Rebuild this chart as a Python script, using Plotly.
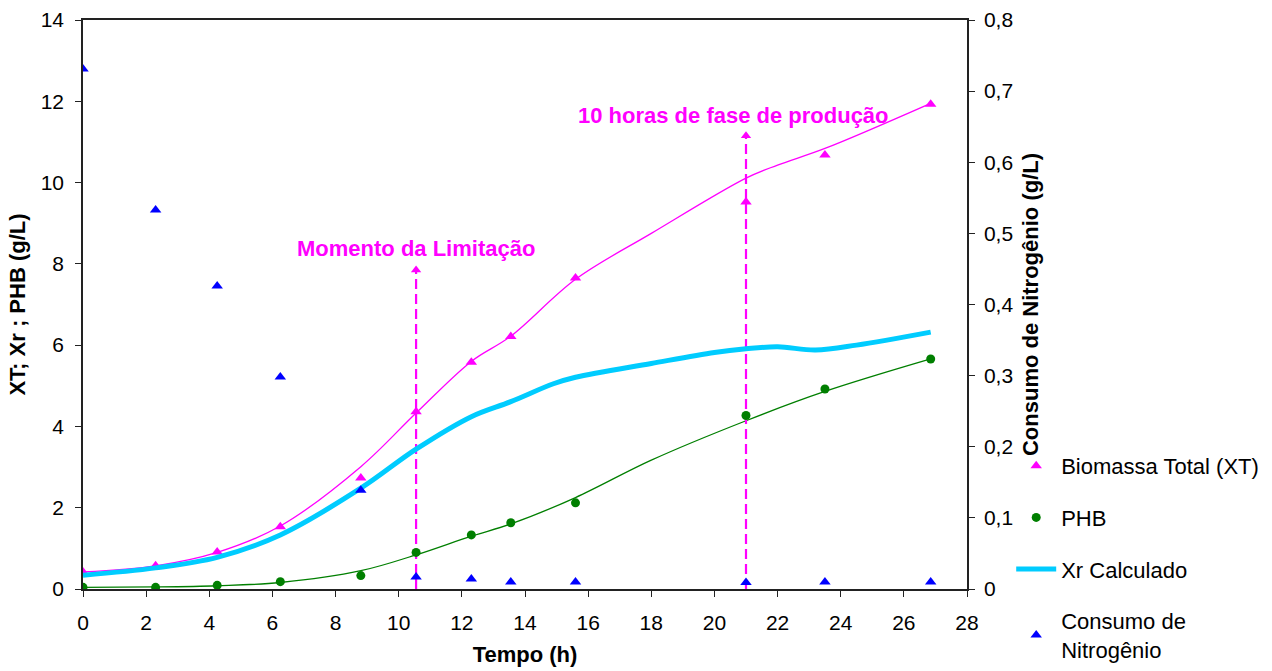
import plotly.graph_objects as go

# Sampling times (h)
tempo = [0, 2.3, 4.25, 6.25, 8.8, 10.55, 12.3, 13.55, 15.6, 21.0, 23.5, 26.85]

# Measured values
biomassa_total = [0.42, 0.57, 0.91, 1.53, 2.73, 4.36, 5.58, 6.21, 7.65, 9.52, 10.68, 11.93]
phb = [0.04, 0.04, 0.09, 0.18, 0.33, 0.90, 1.33, 1.63, 2.12, 4.27, 4.92, 5.66]
consumo_nitrogenio = [0.731, 0.533, 0.426, 0.298, 0.139, 0.017, 0.014, 0.010, 0.010, 0.009, 0.010, 0.010]

# Fitted curves
tempo_xt_fit = [0, 2.3, 4.25, 6.25, 8.8, 10.55, 12.3, 13.55, 15.6, 18, 21.0, 22, 23.5, 26.85]
xt_fit = [0.42, 0.57, 0.90, 1.55, 3.01, 4.33, 5.60, 6.22, 7.62, 8.75, 10.11, 10.43, 10.84, 11.95]

tempo_phb_fit = [0, 2.3, 4.25, 6.25, 8.8, 10.55, 12.3, 13.55, 15.6, 18, 21.0, 23.5, 26.85]
phb_fit = [0.04, 0.05, 0.08, 0.16, 0.45, 0.84, 1.30, 1.60, 2.25, 3.17, 4.14, 4.86, 5.66]

tempo_xr = [0, 2.3, 4.25, 6.25, 8.8, 10.55, 12.3, 13.55, 14.9, 15.6, 18, 20, 21.0, 22, 23.2, 24.5, 26.85]
xr_calculado = [0.34, 0.52, 0.78, 1.33, 2.48, 3.44, 4.24, 4.61, 5.05, 5.21, 5.55, 5.82, 5.91, 5.96, 5.88, 6.00, 6.32]

# Event markers: time, arrow tip height, label and label position
evento_tempo = [10.55, 21.0]
evento_topo = [7.85, 11.15]
evento_texto = ["Momento da Limitação", "10 horas de fase de produção"]
evento_texto_x = [10.55, 20.59]
evento_texto_y = [8.39, 11.64]

# Axis ticks
x_ticks = list(range(0, 29, 2))
y_ticks = list(range(0, 15, 2))
y2_ticks = [0, 0.1, 0.2, 0.3, 0.4, 0.5, 0.6, 0.7, 0.8]
y2_labels = ["0", "0,1", "0,2", "0,3", "0,4", "0,5", "0,6", "0,7", "0,8"]

MAGENTA = "#FF00FF"
VERDE = "#007F00"
CIANO = "#00CCFF"
AZUL = "#0000FF"
FONTE = "Liberation Sans, Arial, sans-serif"

fig = go.Figure()

# Fitted lines (no legend entries)
fig.add_trace(go.Scatter(x=tempo_xt_fit, y=xt_fit, mode="lines",
                         line=dict(color=MAGENTA, width=1.3, shape="spline"),
                         showlegend=False, hoverinfo="skip"))
fig.add_trace(go.Scatter(x=tempo_phb_fit, y=phb_fit, mode="lines",
                         line=dict(color=VERDE, width=1.3, shape="spline"),
                         showlegend=False, hoverinfo="skip"))

# Event dashed lines with arrow heads
for t, topo in zip(evento_tempo, evento_topo):
    fig.add_trace(go.Scatter(x=[t, t], y=[0, topo], mode="lines",
                             line=dict(color=MAGENTA, width=2.2, dash="10px,5px"),
                             showlegend=False, hoverinfo="skip"))
    fig.add_trace(go.Scatter(x=[t], y=[topo], mode="markers",
                             marker=dict(symbol="triangle-up", size=9, color=MAGENTA),
                             showlegend=False, hoverinfo="skip"))

fig.add_trace(go.Scatter(x=tempo, y=biomassa_total, mode="markers", name="Biomassa Total (XT)",
                         marker=dict(symbol="triangle-up", size=10, color=MAGENTA),
                         legendgroup="a"))
fig.add_trace(go.Scatter(x=tempo, y=phb, mode="markers", name="PHB",
                         marker=dict(symbol="circle", size=9, color=VERDE),
                         legendgroup="b"))
fig.add_trace(go.Scatter(x=tempo_xr, y=xr_calculado, mode="lines", name="Xr Calculado",
                         line=dict(color=CIANO, width=5, shape="spline"),
                         legendgroup="c"))
fig.add_trace(go.Scatter(x=tempo, y=consumo_nitrogenio, mode="markers",
                         name="Consumo de<br>Nitrogênio", yaxis="y2",
                         marker=dict(symbol="triangle-up", size=10, color=AZUL),
                         legendgroup="d"))

for txt, tx, ty in zip(evento_texto, evento_texto_x, evento_texto_y):
    fig.add_annotation(x=tx, y=ty, text=f"<b>{txt}</b>", showarrow=False,
                       font=dict(family=FONTE, size=22, color=MAGENTA))

eixo = dict(showgrid=False, zeroline=False, showline=True, linecolor="#222",
            linewidth=1.5, ticks="outside", ticklen=6, tickcolor="#222",
            automargin=False,
            tickfont=dict(family=FONTE, size=21, color="black"))
titulo_fonte = dict(family=FONTE, size=22, color="black")

fig.update_layout(
    width=1272, height=671,
    margin=dict(l=83, r=305, t=20, b=82, autoexpand=False),
    plot_bgcolor="white", paper_bgcolor="white",
    xaxis=dict(**eixo, range=[0, 28], tickvals=x_ticks, mirror=True, ticklabelstandoff=8,
               title=dict(text="<b>Tempo (h)</b>", font=titulo_fonte, standoff=14)),
    yaxis=dict(**eixo, range=[0, 14], tickvals=y_ticks, ticklabelstandoff=7,
               title=dict(text="<b>XT; Xr ; PHB (g/L)</b>", font=titulo_fonte, standoff=9)),
    yaxis2=dict(**eixo, range=[0, 0.8], tickvals=y2_ticks, ticktext=y2_labels,
                overlaying="y", side="right", ticklabelstandoff=5,
                title=dict(text="<b>Consumo de Nitrogênio (g/L)</b>", font=titulo_fonte, standoff=10)),
    legend=dict(x=1.05, y=0.253, xanchor="left", yanchor="top",
                font=dict(family=FONTE, size=22, color="black"),
                tracegroupgap=20, bgcolor="rgba(0,0,0,0)", itemwidth=40),
    showlegend=True,
)

fig.write_html("out.html")
